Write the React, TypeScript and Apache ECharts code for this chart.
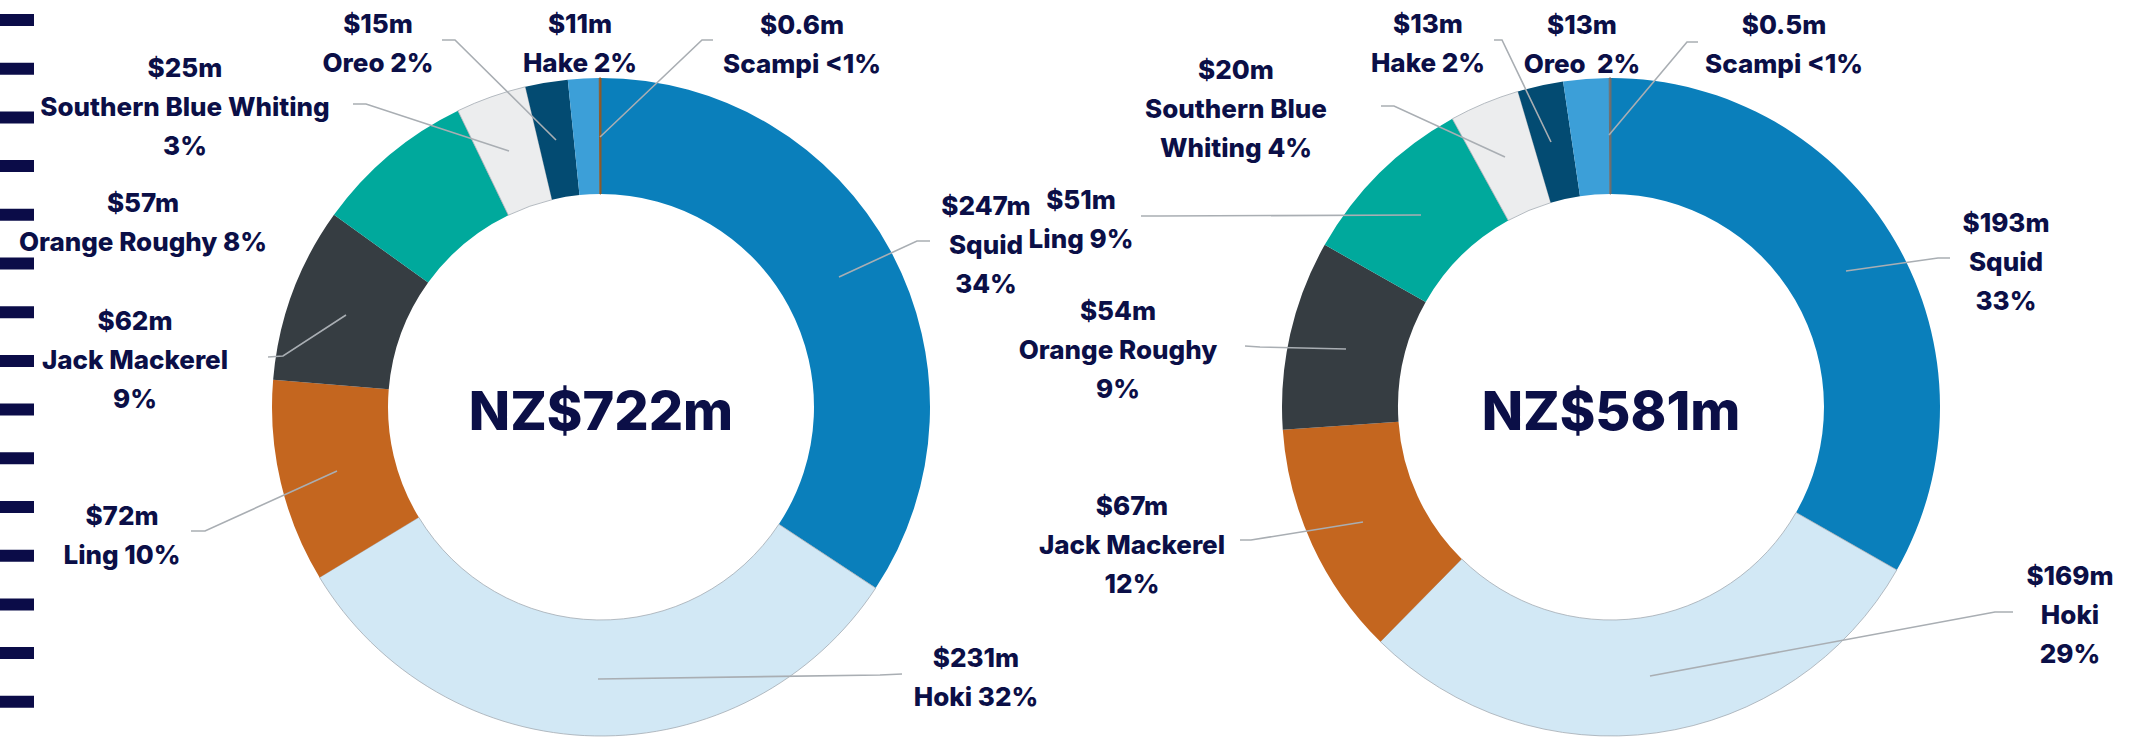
import React, { useEffect, useRef } from "react";
import * as echarts from "echarts";

// ---------- DATA ----------
const leftNames = ["Squid", "Hoki", "Ling", "Jack Mackerel", "Orange Roughy", "Southern Blue Whiting", "Oreo", "Hake", "Scampi"];
const leftValues = [247, 231, 72, 62, 57, 25, 15, 11, 0.6];
const leftPct = ["34%", "32%", "10%", "9%", "8%", "3%", "2%", "2%", "<1%"];
const leftTotal = "NZ$722m";

const rightNames = ["Squid", "Hoki", "Jack Mackerel", "Orange Roughy", "Ling", "Southern Blue Whiting", "Hake", "Oreo", "Scampi"];
const rightValues = [193, 169, 67, 54, 51, 20, 13, 13, 0.5];
const rightPct = ["33%", "29%", "12%", "9%", "9%", "4%", "2%", "2%", "<1%"];
const rightTotal = "NZ$581m";

// ---------- STYLE / LAYOUT ----------
const sliceColors = ["#0A7FBB", "#D2E8F5", "#C4661F", "#363D42", "#00A99C", "#ECEDEE", "#034B72", "#3C9FD8"];
const leftScampiColor = "#8B5A2B";
const rightScampiColor = "#6E6E6E";
const textColor = "#0B0F47";
const lineColor = "#A9AEB3";
const FONT = "Inter, 'Noto Sans', sans-serif";

// label text templates: {v} value, {n} name, {p} percent
const leftTpl = ["{v}\n{n}\n{p}", "{v}\n{n} {p}", "{v}\n{n} {p}", "{v}\n{n}\n{p}", "{v}\n{n} {p}", "{v}\n{n}\n{p}", "{v}\n{n} {p}", "{v}\n{n} {p}", "{v}\n{n} {p}"];
const rightTpl = ["{v}\n{n}\n{p}", "{v}\n{n}\n{p}", "{v}\n{n}\n{p}", "{v}\n{n}\n{p}", "{v}\n{n} {p}", "{v}\nSouthern Blue\nWhiting {p}", "{v}\n{n} {p}", "{v}\n{n}  {p}", "{v}\n{n} {p}"];

// label anchor (block centre) and leader line points, in page pixels
type Pt = [number, number];
const leftLabelPos: Pt[] = [[986, 244], [976, 677], [122, 535], [135, 359], [143, 222], [185, 106], [378, 43], [580, 43], [802, 44]];
const leftLines: (Pt[] | null)[] = [
  [[839, 277], [917, 241], [930, 241]],
  [[598, 679], [880, 675], [902, 674]],
  [[337, 471], [205, 531], [191, 531]],
  [[346, 315], [283, 356], [268, 357]],
  null,
  [[509, 151], [366, 104], [353, 104]],
  [[556, 140], [455, 40], [442, 40]],
  null,
  [[600, 137], [702, 40], [713, 40]],
];
const rightLabelPos: Pt[] = [[2006, 261], [2070, 614], [1132, 544], [1118, 349], [1081, 219], [1236, 108], [1428, 43], [1582, 44], [1784, 44]];
const rightLines: (Pt[] | null)[] = [
  [[1846, 271], [1938, 258], [1950, 258]],
  [[1650, 676], [1995, 612], [2013, 612]],
  [[1363, 522], [1251, 540], [1240, 540]],
  [[1346, 349], [1260, 347], [1245, 346]],
  [[1421, 215], [1160, 216], [1141, 216]],
  [[1505, 157], [1394, 106], [1381, 106]],
  [[1551, 142], [1502, 40], [1494, 40]],
  null,
  [[1609, 135], [1687, 42], [1698, 42]],
];

function fmtValue(v: number) {
  return "$" + v + "m";
}

function ringSeries(center: Pt, names: string[], values: number[], scampiColor: string) {
  return {
    type: "pie",
    z: 2,
    center: [center[0], center[1]],
    radius: [213, 329],
    startAngle: 90,
    clockwise: true,
    silent: true,
    label: { show: false },
    labelLine: { show: false },
    data: names.map((n, i) => {
      const light = i === 1 || i === 5;
      return {
        name: n,
        value: values[i],
        itemStyle: {
          color: i < sliceColors.length ? sliceColors[i] : scampiColor,
          borderColor: light ? "#A3ABB2" : i === 8 ? scampiColor : "transparent",
          borderWidth: light ? 0.8 : i === 8 ? 1 : 0,
        },
      };
    }),
  };
}

function labelSeries(
  center: Pt,
  names: string[],
  values: number[],
  pct: string[],
  tpl: string[],
  pos: Pt[],
  lines: (Pt[] | null)[]
) {
  return {
    type: "pie",
    z: 5,
    center: [center[0], center[1]],
    radius: [213, 329],
    startAngle: 90,
    clockwise: true,
    avoidLabelOverlap: false,
    silent: true,
    itemStyle: { color: "rgba(0,0,0,0)", borderWidth: 0 },
    data: names.map((n, i) => ({
      name: n,
      value: values[i],
      labelText: tpl[i].replace("{v}", fmtValue(values[i])).replace("{n}", n).replace("{p}", pct[i]),
      labelLine: { show: !!lines[i] },
    })),
    label: {
      show: true,
      position: "outside",
      formatter: (p: any) => p.data.labelText,
      color: textColor,
      fontFamily: FONT,
      fontWeight: 800,
      fontSize: 26,
      lineHeight: 39,
      align: "center",
    },
    labelLine: {
      show: true,
      lineStyle: { color: lineColor, width: 1.6 },
    },
    labelLayout: (params: any) => {
      const i = params.dataIndex;
      const res: any = {
        x: pos[i][0],
        y: pos[i][1],
        align: "center",
        verticalAlign: "middle",
      };
      if (lines[i]) res.labelLinePoints = lines[i];
      return res;
    },
  };
}

export default function App() {
  const ref = useRef<HTMLDivElement>(null);
  useEffect(() => {
    if (!ref.current) return;
    const chart = echarts.init(ref.current, undefined, { renderer: "svg" });
    const dashes = Array.from({ length: 15 }, (_, i) => ({
      type: "rect",
      shape: { x: 0, y: 14 + i * 48.7, width: 34, height: 12 },
      style: { fill: "#0B0C48" },
      silent: true,
    }));
    const centerText = (x: number, text: string) => ({
      type: "text",
      x,
      y: 410,
      z: 10,
      style: {
        text,
        fill: textColor,
        font: `800 54px ${FONT}`,
        align: "center",
        verticalAlign: "middle",
      },
      silent: true,
    });
    chart.setOption({
      animation: false,
      backgroundColor: "#ffffff",
      graphic: [...dashes, centerText(601, leftTotal), centerText(1611, rightTotal)],
      series: [
        ringSeries([601, 407], leftNames, leftValues, leftScampiColor),
        ringSeries([1611, 407], rightNames, rightValues, rightScampiColor),
        labelSeries([601, 407], leftNames, leftValues, leftPct, leftTpl, leftLabelPos, leftLines),
        labelSeries([1611, 407], rightNames, rightValues, rightPct, rightTpl, rightLabelPos, rightLines),
      ],
    });
    return () => chart.dispose();
  }, []);
  return (
    <div
      ref={ref}
      style={{ position: "fixed", left: 0, top: 0, width: 2139, height: 738, background: "#fff" }}
    />
  );
}
